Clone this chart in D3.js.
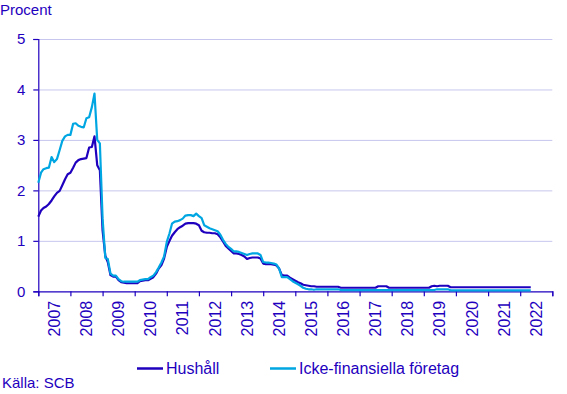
<!DOCTYPE html>
<html>
  <head>
    <meta charset="utf-8">
    <title></title>
    <style type="text/css">
        html, body{
            padding: 0px;
            margin: 0px;
            background: #fff;
            font-family: "Liberation Sans", Arial, sans-serif;
        }
        text{
            fill: #1e00be;
        }
    </style>
  </head>
  <body>
    <div id="vis"></div>
    <script src="https://cdnjs.cloudflare.com/ajax/libs/d3/7.8.5/d3.min.js"></script>
    <script type="text/javascript">

        // monthly, Jan 2007 .. May 2022
        var startMonth = new Date(2007, 0, 1);
        var years = d3.range(2007, 2023);
        var yTicks = [0, 1, 2, 3, 4, 5];
        var seriesNames = ["Hushåll", "Icke-finansiella företag"];
        var seriesColors = ["#1e00be", "#00a6e2"];

        var hushall = [
            1.48, 1.60, 1.65, 1.68, 1.73, 1.80, 1.88, 1.95, 1.99, 2.10, 2.22, 2.32,
            2.35, 2.45, 2.55, 2.60, 2.62, 2.63, 2.64, 2.85, 2.86, 3.07, 2.50, 2.40,
            1.20, 0.70, 0.58, 0.32, 0.29, 0.29, 0.22, 0.18, 0.17, 0.16, 0.16, 0.16,
            0.16, 0.16, 0.20, 0.21, 0.22, 0.22, 0.25, 0.28, 0.35, 0.45, 0.52, 0.65,
            0.88, 1.00, 1.10, 1.17, 1.23, 1.27, 1.30, 1.34, 1.35, 1.35, 1.35, 1.34,
            1.31, 1.20, 1.17, 1.16, 1.16, 1.15, 1.15, 1.13, 1.07, 0.99, 0.90, 0.85,
            0.80, 0.75, 0.75, 0.74, 0.72, 0.69, 0.64, 0.66, 0.67, 0.67, 0.67, 0.65,
            0.55, 0.54, 0.54, 0.54, 0.53, 0.51, 0.45, 0.32, 0.31, 0.31, 0.27, 0.24,
            0.21, 0.18, 0.16, 0.13, 0.12, 0.11, 0.10, 0.10, 0.09, 0.09, 0.09, 0.09,
            0.09, 0.09, 0.09, 0.09, 0.09, 0.07, 0.07, 0.07, 0.07, 0.07, 0.07, 0.07,
            0.07, 0.07, 0.07, 0.07, 0.07, 0.07, 0.07, 0.10, 0.10, 0.10, 0.10, 0.07,
            0.07, 0.07, 0.07, 0.07, 0.07, 0.07, 0.07, 0.07, 0.07, 0.07, 0.07, 0.07,
            0.07, 0.07, 0.07, 0.10, 0.11, 0.10, 0.11, 0.11, 0.11, 0.11, 0.08, 0.08,
            0.08, 0.08, 0.08, 0.08, 0.08, 0.08, 0.08, 0.08, 0.08, 0.08, 0.08, 0.08,
            0.08, 0.08, 0.08, 0.08, 0.08, 0.08, 0.08, 0.08, 0.08, 0.08, 0.08, 0.08,
            0.08, 0.08, 0.08, 0.08, 0.08
        ];

        var foretag = [
            2.15, 2.35, 2.42, 2.44, 2.45, 2.66, 2.56, 2.62, 2.80, 2.98, 3.07, 3.10,
            3.10, 3.32, 3.33, 3.28, 3.26, 3.25, 3.43, 3.45, 3.65, 3.92, 3.00, 2.93,
            1.44, 0.66, 0.64, 0.35, 0.31, 0.31, 0.24, 0.20, 0.19, 0.19, 0.19, 0.19,
            0.19, 0.19, 0.22, 0.23, 0.24, 0.24, 0.28, 0.31, 0.38, 0.47, 0.57, 0.69,
            0.98, 1.15, 1.34, 1.38, 1.39, 1.41, 1.44, 1.50, 1.51, 1.51, 1.49, 1.54,
            1.49, 1.45, 1.31, 1.28, 1.25, 1.23, 1.21, 1.19, 1.12, 1.02, 0.94, 0.88,
            0.84, 0.79, 0.79, 0.78, 0.76, 0.74, 0.72, 0.74, 0.75, 0.75, 0.75, 0.72,
            0.58, 0.57, 0.57, 0.56, 0.55, 0.53, 0.45, 0.28, 0.28, 0.28, 0.24, 0.20,
            0.17, 0.14, 0.11, 0.07, 0.05, 0.04, 0.04, 0.03, 0.04, 0.04, 0.04, 0.04,
            0.04, 0.04, 0.04, 0.04, 0.04, 0.025, 0.025, 0.025, 0.025, 0.025, 0.025, 0.025,
            0.025, 0.025, 0.025, 0.025, 0.025, 0.025, 0.025, 0.025, 0.025, 0.025, 0.025, 0.025,
            0.025, 0.025, 0.025, 0.025, 0.025, 0.025, 0.025, 0.025, 0.025, 0.025, 0.025, 0.025,
            0.025, 0.025, 0.025, 0.025, 0.025, 0.04, 0.04, 0.04, 0.04, 0.04, 0.02, 0.02,
            0.02, 0.02, 0.02, 0.02, 0.02, 0.02, 0.02, 0.02, 0.02, 0.02, 0.02, 0.02,
            0.02, 0.02, 0.02, 0.02, 0.02, 0.02, 0.02, 0.02, 0.02, 0.02, 0.02, 0.02,
            0.02, 0.02, 0.02, 0.02, 0.02
        ];

        var width = 567,
            height = 394;
        var plotL = 38.3, plotR = 552.3, plotT = 39, plotB = 291.3;

        var svg = d3.select("#vis").append("svg")
            .attr("width", width)
            .attr("height", height);

        var x = d3.scaleTime()
            .domain([new Date(2007, 0, 1), new Date(2023, 0, 1)])
            .range([plotL, plotR]);

        var y = d3.scaleLinear()
            .domain([0, 5])
            .range([plotB, plotT]);

        // grid
        svg.append("g")
            .attr("transform", "translate(" + plotL + ",0)")
            .call(d3.axisLeft(y).tickValues(yTicks.slice(1)).tickSize(-(plotR - plotL)).tickFormat(""))
            .call(g => g.select(".domain").remove())
            .selectAll("line")
            .attr("stroke", "#c6c6ee")
            .attr("stroke-width", 1);

        // y axis
        var yAxis = svg.append("g")
            .attr("transform", "translate(" + plotL + ",0)")
            .call(d3.axisLeft(y).tickValues(yTicks).tickSize(5).tickPadding(8).tickFormat(d3.format("d")));
        yAxis.selectAll("path, line").attr("stroke", "#1e00be").attr("stroke-width", 1.2);
        yAxis.selectAll("text").attr("font-size", 15).style("font-family", "Liberation Sans, Arial, sans-serif");

        // x axis ticks at year starts
        var xAxis = svg.append("g")
            .attr("transform", "translate(0," + plotB + ")")
            .call(d3.axisBottom(x).tickValues(years.concat([2023]).map(d => new Date(d, 0, 1))).tickSize(5).tickFormat(""));
        xAxis.selectAll("path, line").attr("stroke", "#1e00be").attr("stroke-width", 1.2);

        // year labels, centered in each year, rotated
        svg.append("g").selectAll("text")
            .data(years)
            .join("text")
            .attr("transform", d => "translate(" + x(new Date(d, 6, 1)) + "," + (plotB + 9.5) + ") rotate(-90)")
            .attr("dy", "0.36em")
            .attr("text-anchor", "end")
            .attr("font-size", 16)
            .text(d => d);

        // lines
        var line = d3.line()
            .x((d, i) => x(d3.timeMonth.offset(startMonth, i)))
            .y(d => y(d));

        [hushall, foretag].forEach(function(s, k){
            svg.append("path")
                .datum(s)
                .attr("fill", "none")
                .attr("stroke", seriesColors[k])
                .attr("stroke-width", 2.2)
                .attr("stroke-linejoin", "round")
                .attr("d", line);
        });

        // titles
        svg.append("text")
            .attr("x", 0)
            .attr("y", 15)
            .attr("font-size", 15)
            .text("Procent");

        svg.append("text")
            .attr("x", 2)
            .attr("y", 388)
            .attr("font-size", 15)
            .text("Källa: SCB");

        // legend
        var legendX = [137, 270];
        var legend = svg.append("g").selectAll("g")
            .data(seriesNames)
            .join("g")
            .attr("transform", (d, i) => "translate(" + legendX[i] + ",368.5)");
        legend.append("line")
            .attr("x1", 0).attr("x2", 26)
            .attr("stroke", (d, i) => seriesColors[i])
            .attr("stroke-width", 2.5);
        legend.append("text")
            .attr("x", 29)
            .attr("dy", "0.35em")
            .attr("font-size", 16)
            .text(d => d);

    </script>
  </body>
</html>
